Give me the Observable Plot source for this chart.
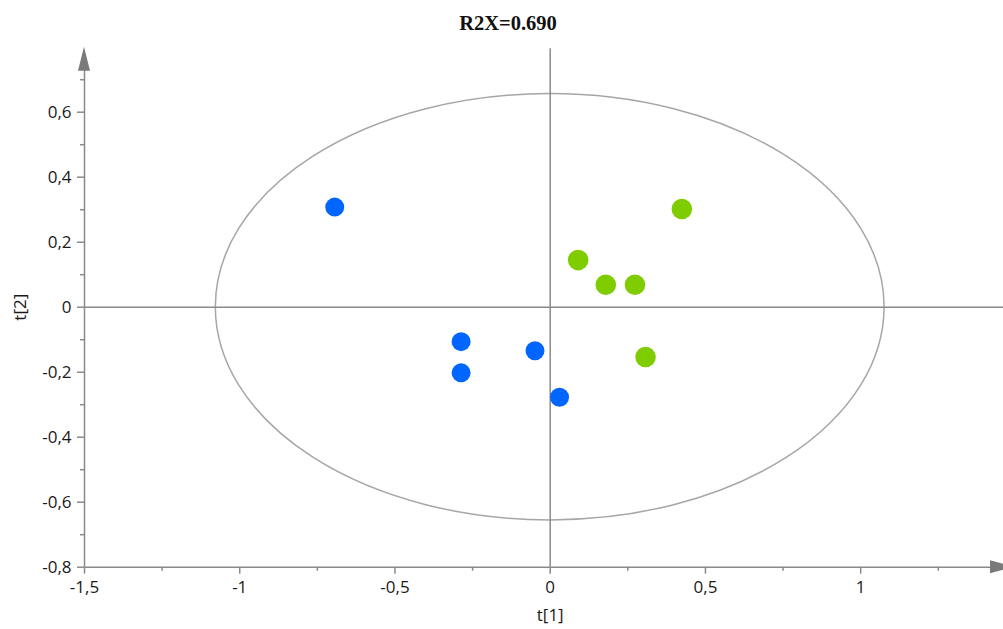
<!DOCTYPE html>
<html>
<head>
<meta charset="utf-8">
<script src="https://cdn.jsdelivr.net/npm/d3@7"></script>
<script src="https://cdn.jsdelivr.net/npm/@observablehq/plot@0.6"></script>
<style>
  body { margin: 0; background: #fff; }
  #wrap { width: 1003px; height: 629px; overflow: hidden; position: relative; }
  #title { position: relative; width: 1003px; height: 40px; }
  #title span { position: absolute; left: 508px; top: 12px; transform: translateX(-50%);
    font: bold 20.5px "Liberation Serif", "Times New Roman", serif; color: #111; white-space: nowrap; }
  svg { overflow: visible; }
</style>
</head>
<body>
<div id="wrap">
  <div id="title"><span>R2X=0.690</span></div>
  <div id="chart"></div>
</div>
<script>
// ---- data ----
const groups = ["A", "A", "A", "A", "A", "B", "B", "B", "B", "B"];
const t1 = [-0.694, -0.287, -0.287, -0.049, 0.030, 0.090, 0.179, 0.273, 0.424, 0.307];
const t2 = [0.308, -0.106, -0.202, -0.134, -0.277, 0.145, 0.069, 0.069, 0.302, -0.153];
const xMajorTicks = [-1.5, -1, -0.5, 0, 0.5, 1];
const xMinorTicks = [-1.25, -0.75, -0.25, 0.25, 0.75, 1.25];
const yMajorTicks = [-0.8, -0.6, -0.4, -0.2, 0, 0.2, 0.4, 0.6];
const yMinorTicks = [-0.7, -0.5, -0.3, -0.1, 0.1, 0.3, 0.5, 0.7];
const ellipseRadii = {a: 1.077, b: 0.656}; // Hotelling T2 ellipse semi-axes
const xDomain = [-1.5, 1.46];
const yDomain = [-0.8, 0.8];
const groupColors = {A: "#0066ff", B: "#7fcc00"};
const groupRadius = {A: 9.5, B: 10.3};

const points = t1.map((x, i) => ({x, y: t2[i], g: groups[i]}));
const fmt = d => String(d).replace(".", ",");
const axisColor = "#8a8a8a";

function ellipseMark(index, scales) {
  const {x, y} = scales;
  const e = document.createElementNS("http://www.w3.org/2000/svg", "ellipse");
  e.setAttribute("cx", x(0));
  e.setAttribute("cy", y(0));
  e.setAttribute("rx", x(ellipseRadii.a) - x(0));
  e.setAttribute("ry", y(0) - y(ellipseRadii.b));
  e.setAttribute("fill", "none");
  e.setAttribute("stroke", "#a6a6a6");
  e.setAttribute("stroke-width", 1.5);
  return e;
}

function arrowsMark(index, scales, values, dims) {
  const {x, y} = scales;
  const ns = "http://www.w3.org/2000/svg";
  const g = document.createElementNS(ns, "g");
  const xl = x(xDomain[0]), yb = y(yDomain[0]);
  const top = y(yDomain[1]);
  const right = dims.width;
  const p1 = document.createElementNS(ns, "path");
  p1.setAttribute("d", `M${xl},${top}L${xl - 6},${top + 24}L${xl + 6},${top + 24}Z`);
  p1.setAttribute("fill", "#7a7a7a");
  g.appendChild(p1);
  const p2 = document.createElementNS(ns, "path");
  const bx = right - 13;
  p2.setAttribute("d", `M${bx + 24},${yb}L${bx},${yb - 6.5}L${bx},${yb + 6.5}Z`);
  p2.setAttribute("fill", "#7a7a7a");
  g.appendChild(p2);
  return g;
}

const chart = Plot.plot({
  width: 1003,
  height: 589,
  marginLeft: 84,
  marginRight: 0,
  marginTop: 6.7,
  marginBottom: 62.3,
  style: {fontFamily: "'Open Sans', sans-serif", fontSize: "17px", color: "#1a1a1a", background: "#fff", overflow: "visible"},
  x: {domain: xDomain},
  y: {domain: yDomain},
  marks: [
    ellipseMark,
    Plot.ruleY([0], {x1: xDomain[0], x2: xDomain[1] + 0.2, stroke: axisColor, strokeWidth: 1.5}),
    Plot.ruleX([0], {y1: yDomain[0], y2: yDomain[1] - 0.005, stroke: axisColor, strokeWidth: 1.5}),
    Plot.ruleX([xDomain[0]], {y1: yDomain[0], y2: yDomain[1] - 0.05, stroke: axisColor, strokeWidth: 1.5}),
    Plot.ruleY([yDomain[0]], {x1: xDomain[0], x2: xDomain[1], stroke: axisColor, strokeWidth: 1.5}),
    arrowsMark,
    Plot.axisX({ticks: xMajorTicks, tickFormat: fmt, tickSize: 7, tickPadding: 7, stroke: axisColor, strokeWidth: 1.5, label: null, fill: "#1a1a1a"}),
    Plot.axisX({ticks: xMinorTicks, tickFormat: () => "", tickSize: 4, stroke: axisColor, strokeWidth: 1.5, label: null}),
    Plot.axisY({ticks: yMajorTicks, tickFormat: fmt, tickSize: 7, tickPadding: 6, stroke: axisColor, strokeWidth: 1.5, label: null, fill: "#1a1a1a"}),
    Plot.axisY({ticks: yMinorTicks, tickFormat: () => "", tickSize: 4, stroke: axisColor, strokeWidth: 1.5, label: null}),
    Plot.text([0], {x: d => d, frameAnchor: "bottom", dy: 48, lineAnchor: "middle", text: () => "t[1]", fill: "#1a1a1a"}),
    Plot.text([0], {y: d => d, frameAnchor: "left", dx: -64, rotate: -90, lineAnchor: "middle", textAnchor: "middle", text: () => "t[2]", fill: "#1a1a1a"}),
    Plot.dot(points.filter(d => d.g === "A"), {x: "x", y: "y", r: groupRadius.A, fill: groupColors.A, stroke: "none"}),
    Plot.dot(points.filter(d => d.g === "B"), {x: "x", y: "y", r: groupRadius.B, fill: groupColors.B, stroke: "none"})
  ]
});
document.getElementById("chart").appendChild(chart);
</script>
</body>
</html>
